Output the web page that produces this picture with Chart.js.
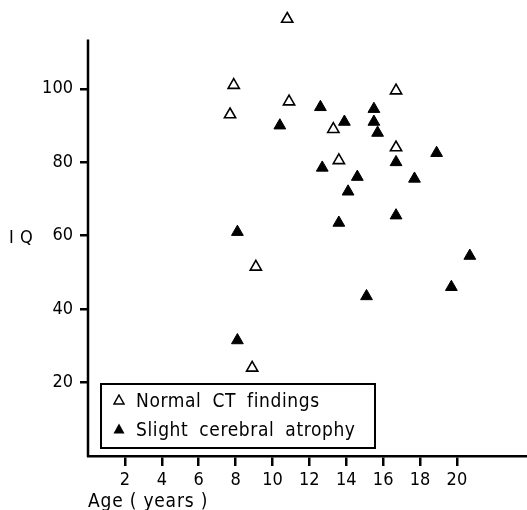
<!DOCTYPE html>
<html>
<head>
<meta charset="utf-8">
<script src="https://cdn.jsdelivr.net/npm/chart.js@4.4.1/dist/chart.umd.min.js"></script>
<style>
    body { margin: 0; background: #fff; }
    #wrap { position: relative; width: 527px; height: 510px; }
    #chart { position: absolute; left: 0; top: 0; }
    .txt { position: absolute; font-family: "DejaVu Sans Condensed", "DejaVu Sans", sans-serif; color: #000; white-space: nowrap; }
    #ytitle { left: 9px; top: 226px; font-size: 18px; letter-spacing: 0.5px; }
    #xtitle { left: 88px; top: 489px; font-size: 19px; letter-spacing: 0.8px; }
    #key { position: absolute; left: 100px; top: 383px; width: 272px; height: 61px; border: 2px solid #000; padding-top: 1px; }
    #key .row { height: 28.6px; line-height: 28.6px; font-size: 19px; letter-spacing: 0.6px; word-spacing: 5px; }
    #key svg { display: inline-block; vertical-align: middle; margin: 0 11px 0 11px; position: relative; top: -2px; }
</style>
</head>
<body>
<div id="wrap">
    <canvas id="chart" width="527" height="510"></canvas>
    <div class="txt" id="ytitle">I Q</div>
    <div class="txt" id="xtitle">Age ( years )</div>
    <div class="txt" id="key">
        <div class="row"><svg width="12" height="11"><polygon points="6,1 11,10 1,10" fill="none" stroke="#000" stroke-width="1.5"/></svg>Normal CT findings</div>
        <div class="row"><svg width="12" height="11"><polygon points="6,0.5 11.5,10.5 0.5,10.5" fill="#000"/></svg>Slight cerebral atrophy</div>
    </div>
</div>
<script>
// IQ against age
const normalAge = [10.8, 7.9, 10.9, 7.7, 13.3, 16.7, 16.7, 13.6, 9.1, 8.9];
const normalIQ  = [119, 101, 96.5, 93, 89, 99.5, 84, 80.5, 51.5, 24];

const atrophyAge = [12.6, 10.4, 13.9, 15.5, 15.5, 15.7, 18.9, 16.7, 12.7, 14.6, 17.7, 14.1, 13.6, 16.7, 8.1, 20.7, 19.7, 15.1, 8.1];
const atrophyIQ  = [95, 90, 91, 94.5, 91, 88, 82.5, 80, 78.5, 76, 75.5, 72, 63.5, 65.5, 61, 54.5, 46, 43.5, 31.5];

const xTicks = [2, 4, 6, 8, 10, 12, 14, 16, 18, 20];
const yTicks = [20, 40, 60, 80, 100];

// the vertical axis stops below the highest point
const Y_AXIS_TOP = 113.4;

const toPoints = (xs, ys) => xs.map((x, i) => ({ x: x, y: ys[i] }));

const tickFont = { family: '"DejaVu Sans Condensed", "DejaVu Sans", sans-serif', size: 18 };

// fixed axis box, no extra padding for the end labels
const fixBox = (size) => (scale) => {
    if (scale.isHorizontal()) scale.height = size;
    else scale.width = size;
    scale.paddingTop = 0;
    scale.paddingBottom = 0;
    scale.paddingLeft = 0;
    scale.paddingRight = 0;
};

// draws the short y axis line (border is switched off for it)
const yAxisLine = {
    id: 'yAxisLine',
    afterDraw(chart) {
        const { ctx, chartArea, scales } = chart;
        ctx.save();
        ctx.strokeStyle = '#000';
        ctx.lineWidth = 2.5;
        ctx.beginPath();
        ctx.moveTo(chartArea.left, scales.y.getPixelForValue(0) + 1);
        ctx.lineTo(chartArea.left, scales.y.getPixelForValue(Y_AXIS_TOP));
        ctx.stroke();
        ctx.restore();
    }
};

Chart.defaults.color = '#000';

new Chart(document.getElementById('chart'), {
    type: 'scatter',
    data: {
        datasets: [
            {
                label: 'Normal CT findings',
                data: toPoints(normalAge, normalIQ),
                pointStyle: 'triangle',
                pointRadius: 6.5,
                backgroundColor: '#fff',
                borderColor: '#000',
                borderWidth: 1.6
            },
            {
                label: 'Slight cerebral atrophy',
                data: toPoints(atrophyAge, atrophyIQ),
                pointStyle: 'triangle',
                pointRadius: 6.8,
                backgroundColor: '#000',
                borderColor: '#000',
                borderWidth: 1
            }
        ]
    },
    options: {
        responsive: false,
        animation: false,
        events: [],
        layout: { autoPadding: false, padding: { top: 8, right: 0, left: 0, bottom: 0 } },
        plugins: {
            legend: { display: false },
            tooltip: { enabled: false }
        },
        scales: {
            x: {
                type: 'linear',
                min: 0,
                max: 23.8,
                afterBuildTicks: (scale) => { scale.ticks = xTicks.map(v => ({ value: v })); },
                afterFit: fixBox(54),
                grid: { drawOnChartArea: false, color: '#000', lineWidth: 2.5, tickLength: 10 },
                border: { display: true, color: '#000', width: 2.5 },
                ticks: { font: tickFont, padding: 4, maxRotation: 0, autoSkip: false }
            },
            y: {
                type: 'linear',
                min: 0,
                max: 122,
                afterBuildTicks: (scale) => { scale.ticks = yTicks.map(v => ({ value: v })); },
                afterFit: fixBox(88),
                grid: { drawOnChartArea: false, color: '#000', lineWidth: 2.5, tickLength: 8 },
                border: { display: false },
                ticks: { font: tickFont, padding: 7, autoSkip: false }
            }
        }
    },
    plugins: [yAxisLine]
});
</script>
</body>
</html>
